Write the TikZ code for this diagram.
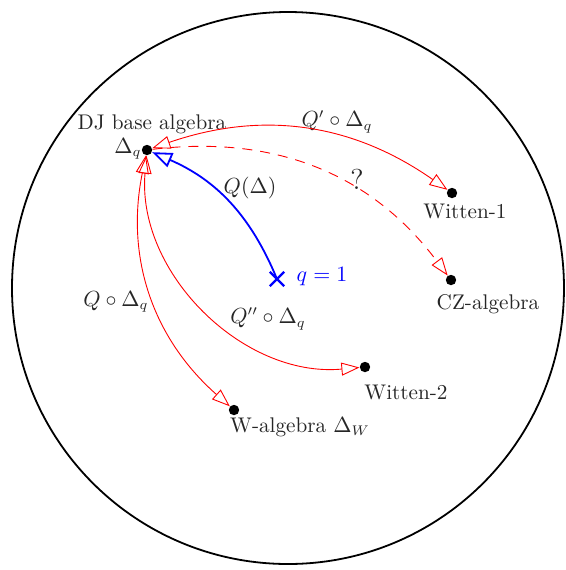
\documentclass[tikz,border=0pt]{standalone}
\usetikzlibrary{arrows.meta,shapes.misc}
\tikzset{optip/.tip={Triangle[open,length=9pt,width=6.5pt]},
  bltip/.tip={Triangle[open,length=10pt,width=7.5pt]}}
\begin{document}
\begin{tikzpicture}[x=0.5pt,y=-0.5pt,
  font=\fontsize{10.6}{13}\selectfont,
  dot/.style={circle,fill=black,inner sep=0pt,minimum size=5.2pt},
  lbl/.style={inner sep=0pt,text=black!85},
  redarr/.style={red,line width=0.45pt},
  bluearr/.style={blue,line width=0.9pt},
  crossmark/.style={cross out,draw=blue,line width=1.2pt,minimum size=6pt,inner sep=0pt}]
\useasboundingbox (0,0) rectangle (566,570);
\draw[line width=0.9pt] (288,288) circle [radius=276];
% points
\node[dot] (dj) at (147,150) {};
\node[dot] (w1) at (452,193) {};
\node[dot] (cz) at (451,280) {};
\node[dot] (w2) at (365,367) {};
\node[dot] (wa) at (234,410) {};
\node[crossmark] (q1) at (277,279) {};
% labels
\node[lbl] (ldj) at (152,124) {DJ base algebra};
\node[lbl] (ldq) at (128,149) {$\Delta_q$};
\node[lbl] (lqp) at (337,122) {$Q'\circ\Delta_q$};
\node[lbl] (lw1) at (465,211) {Witten-1};
\node[lbl,font=\Large] (lqm) at (357,179) {?};
\node[lbl] (lcz) at (488,304) {CZ-algebra};
\node[lbl,text=blue] (lq1) at (322,277) {$q=1$};
\node[lbl] (lqd) at (250,188) {$Q(\Delta)$};
\node[lbl] (lq) at (116,302) {$Q\circ\Delta_q$};
\node[lbl] (lqpp) at (268,319) {$Q''\circ\Delta_q$};
\node[lbl] (lw2) at (406,392) {Witten-2};
\node[lbl] (lwa) at (300,427) {W-algebra $\Delta_W$};
% connectors
\draw[redarr,optip-optip] (dj) to[bend left=27] (w1);
\draw[redarr,dash pattern=on 5pt off 4pt,-optip] (dj) to[bend left=30] (cz);
\draw[redarr,optip-optip] (dj) to[bend right=50] (w2);
\draw[redarr,optip-optip] (dj) to[bend right=30] (wa);
\draw[bluearr,-bltip] (q1.center) to[bend right=22] (dj);
\end{tikzpicture}
\end{document}
